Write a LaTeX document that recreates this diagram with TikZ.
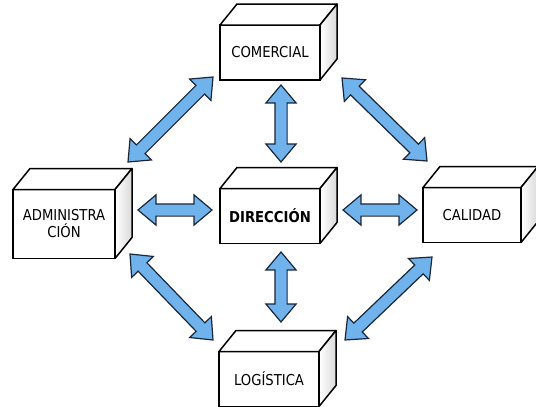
\documentclass[tikz,border=0pt]{standalone}
\usepackage{fontspec}
\newfontfamily\boxfont[FakeStretch=0.88]{DejaVu Sans}
\usetikzlibrary{calc,shapes.arrows}
\definecolor{arrowblue}{HTML}{6FB2EC}
\definecolor{arrowline}{HTML}{1B2637}
\tikzset{
  front/.style={draw=black, line width=1.5pt, fill=white, minimum width=100pt,
    minimum height=55pt, align=center, inner sep=0pt, outer sep=0pt,
    font=\boxfont\fontsize{15}{17}\selectfont},
  face/.style={draw=black, line width=1.5pt, line join=round, fill=white},
  sideface/.style={draw=black, line width=1.5pt, line join=round,
    left color=white, right color=gray!30},
  dblarrow/.style={double arrow, draw=arrowline, fill=arrowblue, line width=1.2pt,
    inner xsep=0pt, inner ysep=5.5pt, outer sep=0pt,
    double arrow head extend=9pt, double arrow tip angle=80, line join=miter}
}
\newcommand\boxfaces[1]{%
  \draw[face] (#1.north west) -- ++(17,-21) -- ($(#1.north east)+(17,-21)$) -- (#1.north east) -- cycle;
  \draw[sideface] (#1.north east) -- ++(17,-21) -- ($(#1.south east)+(17,-21)$) -- (#1.south east) -- cycle;
}
\newcommand\fatarrow[2]{%
  \path let \p1=($(#2)-(#1)$), \n1={veclen(\x1,\y1)}, \n2={atan2(\y1,\x1)} in
    node[dblarrow, minimum height=\n1, rotate=\n2] at ($(#1)!0.5!(#2)$) {};
}
\begin{document}
\begin{tikzpicture}[x=1pt,y=-1pt]
\useasboundingbox (0,0) rectangle (536,407);
\node[front] (com) at (270,52.5) {COMERCIAL};
\node[front, minimum width=102pt, minimum height=69pt] (adm) at (64,224) {ADMINISTRA\\CIÓN};
\node[front, font=\boxfont\bfseries\fontsize{15}{17}\selectfont] (dir) at (270,216) {DIRECCIÓN};
\node[front, minimum width=98pt] (cal) at (472,215) {CALIDAD};
\node[front] (log) at (269,379) {LOGÍSTICA};
\boxfaces{com}
\boxfaces{adm}
\boxfaces{dir}
\boxfaces{cal}
\boxfaces{log}
% arrow end points
\coordinate (cd1) at (281,85);
\coordinate (cd2) at (281,162);
\coordinate (dl1) at (281,252);
\coordinate (dl2) at (281,322);
\coordinate (ad1) at (138,210);
\coordinate (ad2) at (212,210);
\coordinate (dc1) at (343,210);
\coordinate (dc2) at (417,210);
\coordinate (ca1) at (213,77);
\coordinate (ca2) at (128,162);
\coordinate (cc1) at (342,78);
\coordinate (cc2) at (427,161);
\coordinate (al1) at (130,254);
\coordinate (al2) at (213,340);
\coordinate (cl1) at (432,257);
\coordinate (cl2) at (345,340);
\fatarrow{cd1}{cd2}
\fatarrow{dl1}{dl2}
\fatarrow{ad1}{ad2}
\fatarrow{dc1}{dc2}
\fatarrow{ca1}{ca2}
\fatarrow{cc1}{cc2}
\fatarrow{al1}{al2}
\fatarrow{cl1}{cl2}
\end{tikzpicture}
\end{document}
